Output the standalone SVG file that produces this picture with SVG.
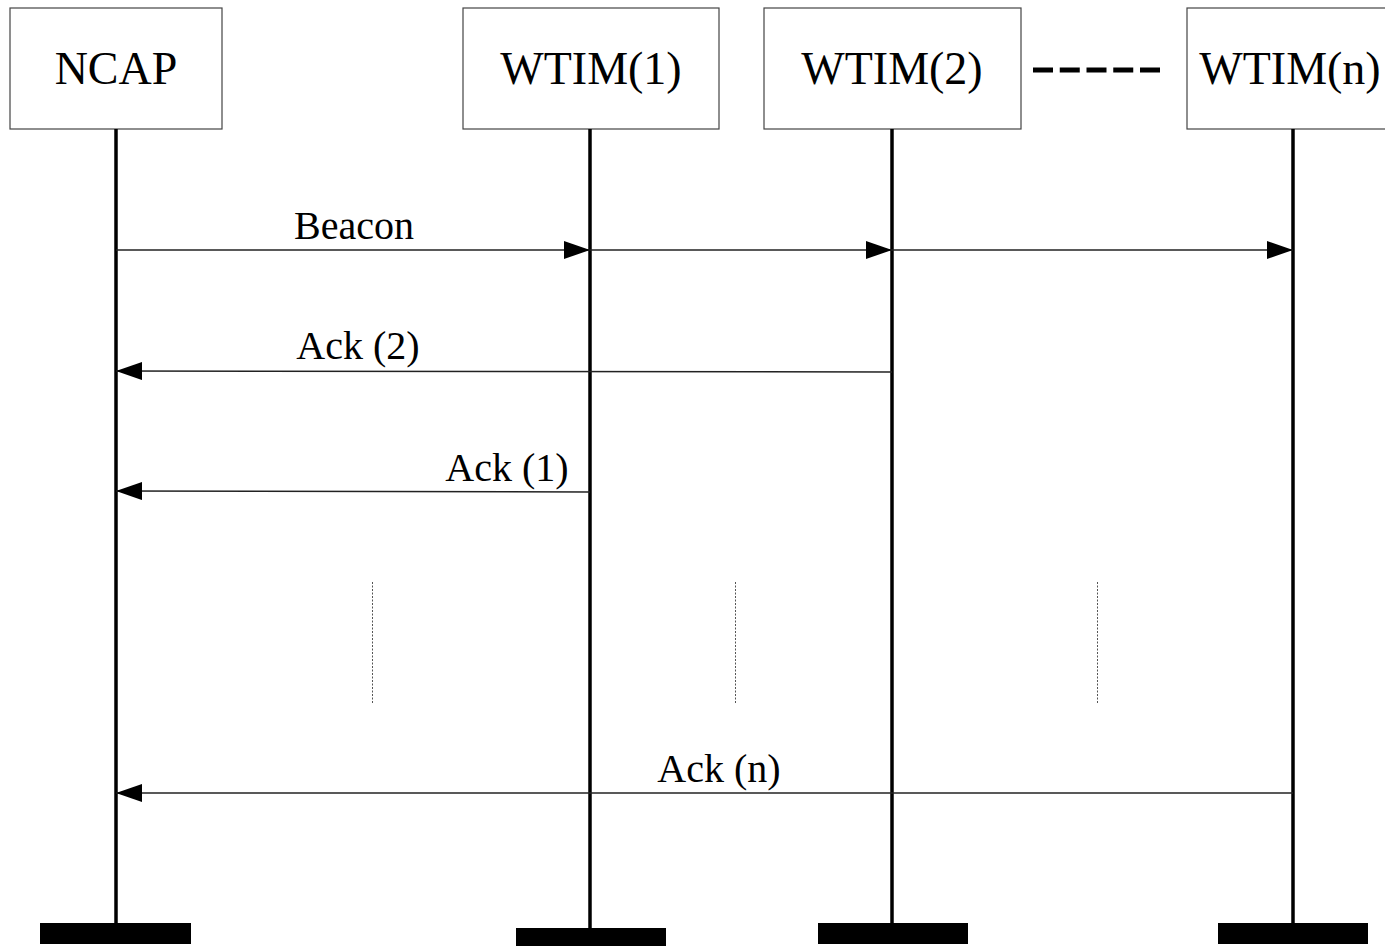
<svg xmlns="http://www.w3.org/2000/svg" width="1385" height="946" viewBox="0 0 1385 946">
<style>
.box{fill:#fff;stroke:#444;stroke-width:1.2}
.life{stroke:#000;stroke-width:3.5}
.foot{fill:#000}
.lbl{font-family:"Liberation Serif","Times New Roman",serif;fill:#000}
.big{font-size:46px}
.small{font-size:40px}
.msg{stroke:#222;stroke-width:1.5;fill:none}
.dot{stroke:#555;stroke-width:1;stroke-dasharray:2 1.5}
</style>
<defs>
<marker id="ah" viewBox="0 0 26 18" refX="26" refY="9" markerWidth="26" markerHeight="18" markerUnits="userSpaceOnUse" orient="auto">
<path d="M0,0 L26,9 L0,18 Z" fill="#000"/>
</marker>
</defs>
<rect width="1385" height="946" fill="#fff"/>
<g id="ncap">
<rect class="box" x="10" y="8" width="212" height="121"/>
<text class="lbl big" x="116" y="84" text-anchor="middle">NCAP</text>
<line class="life" x1="116" y1="129" x2="116" y2="924"/>
<rect class="foot" x="40" y="923" width="151" height="21"/>
</g>
<g id="wtim1">
<rect class="box" x="463" y="8" width="256" height="121"/>
<text class="lbl big" x="591" y="84" text-anchor="middle">WTIM(1)</text>
<line class="life" x1="590" y1="129" x2="590" y2="929"/>
<rect class="foot" x="516" y="928" width="150" height="18"/>
</g>
<g id="wtim2">
<rect class="box" x="764" y="8" width="257" height="121"/>
<text class="lbl big" x="892" y="84" text-anchor="middle">WTIM(2)</text>
<line class="life" x1="892" y1="129" x2="892" y2="924"/>
<rect class="foot" x="818" y="923" width="150" height="21"/>
</g>
<g id="ellipsis">
<line x1="1033" y1="70" x2="1160" y2="70" stroke="#000" stroke-width="5" stroke-dasharray="20 6.75"/>
</g>
<g id="wtimn">
<rect class="box" x="1187" y="8" width="210" height="121"/>
<text class="lbl big" x="1290" y="84" text-anchor="middle">WTIM(n)</text>
<line class="life" x1="1293" y1="129" x2="1293" y2="924"/>
<rect class="foot" x="1218" y="923" width="150" height="21"/>
</g>
<g id="connectors">
<line class="msg" x1="116" y1="250" x2="590" y2="250" marker-end="url(#ah)"/>
<line class="msg" x1="590" y1="250" x2="892" y2="250" marker-end="url(#ah)"/>
<line class="msg" x1="892" y1="250" x2="1293" y2="250" marker-end="url(#ah)"/>
<line class="msg" x1="892" y1="372" x2="116" y2="371" marker-end="url(#ah)"/>
<line class="msg" x1="590" y1="492" x2="116" y2="491" marker-end="url(#ah)"/>
<line class="msg" x1="1293" y1="793" x2="116" y2="793" marker-end="url(#ah)"/>
<line class="dot" x1="372.5" y1="582" x2="372.5" y2="703"/>
<line class="dot" x1="735.5" y1="582" x2="735.5" y2="703"/>
<line class="dot" x1="1097.5" y1="582" x2="1097.5" y2="703"/>
</g>
<g id="labels">
<text class="lbl small" x="354" y="239" text-anchor="middle">Beacon</text>
<text class="lbl small" x="358" y="359" text-anchor="middle">Ack (2)</text>
<text class="lbl small" x="507" y="481" text-anchor="middle">Ack (1)</text>
<text class="lbl small" x="719" y="782" text-anchor="middle">Ack (n)</text>
</g>
</svg>
